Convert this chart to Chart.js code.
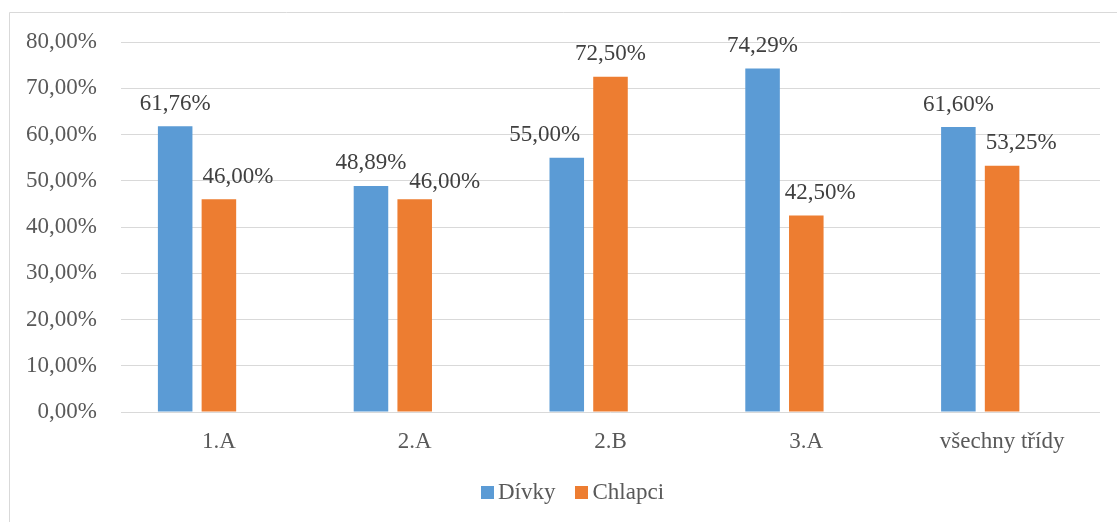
<!DOCTYPE html>
<html>
<head>
<meta charset="utf-8">
<script src="https://cdn.jsdelivr.net/npm/chart.js@4"></script>
<style>
  html, body { margin: 0; padding: 0; background: #ffffff; }
  #wrap { position: relative; width: 1117px; height: 522px; }
</style>
</head>
<body>
<div id="wrap"><canvas id="c" width="1117" height="522"></canvas></div>
<script>
// Classes and share per group (percent)
const classes = ['1.A', '2.A', '2.B', '3.A', 'všechny třídy'];
const girls = [61.76, 48.89, 55.00, 74.29, 61.60];
const boys  = [46.00, 46.00, 72.50, 42.50, 53.25];
// Third, empty series slot kept in the grouping (no values, not in legend)
const emptySlot = [null, null, null, null, null];
const yTicks = [0, 10, 20, 30, 40, 50, 60, 70, 80];

// Hand-placed nudges of some value labels so they don't collide (px)
const girlsLabelShiftX = [0, 0, -22, 0, 0];
const boysLabelShiftX  = [19, 30, 0, 14, 19];
const boysLabelShiftY  = [0, 5, 0, 0, 0];

const serif = "'Liberation Serif', 'Times New Roman', serif";
const fmt = v => v.toFixed(2).replace('.', ',') + '%';

// Outer frame of the chart
const framePlugin = {
  id: 'frame',
  beforeDraw(chart) {
    const ctx = chart.ctx;
    ctx.save();
    ctx.fillStyle = '#ffffff';
    ctx.fillRect(0, 0, chart.width, chart.height);
    ctx.strokeStyle = '#d9d9d9';
    ctx.lineWidth = 1;
    ctx.beginPath();
    ctx.moveTo(9.5, chart.height + 2);
    ctx.lineTo(9.5, 12.5);
    ctx.lineTo(chart.width + 2, 12.5);
    ctx.stroke();
    ctx.restore();
  }
};

// Value labels above each bar
const valueLabels = {
  id: 'valueLabels',
  afterDatasetsDraw(chart) {
    const ctx = chart.ctx;
    ctx.save();
    ctx.font = '23px ' + serif;
    ctx.fillStyle = '#404040';
    ctx.textAlign = 'center';
    ctx.textBaseline = 'alphabetic';
    chart.data.datasets.forEach((ds, di) => {
      const meta = chart.getDatasetMeta(di);
      const sx = ds.labelShiftX || [];
      const sy = ds.labelShiftY || [];
      meta.data.forEach((bar, i) => {
        const v = ds.data[i];
        if (v === null || v === undefined) return;
        ctx.fillText(fmt(v), bar.x + (sx[i] || 0), bar.y - 16.5 + (sy[i] || 0));
      });
    });
    ctx.restore();
  }
};

// Legend row under the axis: small square, tight gap, then the series name
const legendRow = {
  id: 'legendRow',
  afterDraw(chart) {
    const ctx = chart.ctx;
    const items = chart.data.datasets.filter(ds => ds.label);
    const box = 13, gap = 4, itemGap = 20, centerX = 572.5, baseY = 499;
    ctx.save();
    ctx.font = '23px ' + serif;
    ctx.textBaseline = 'alphabetic';
    ctx.textAlign = 'left';
    const widths = items.map(ds => ctx.measureText(ds.label).width);
    let total = 0;
    widths.forEach((w, i) => { total += box + gap + w + (i < widths.length - 1 ? itemGap : 0); });
    let x = centerX - total / 2;
    items.forEach((ds, i) => {
      ctx.fillStyle = ds.backgroundColor;
      ctx.fillRect(Math.round(x), baseY - box, box, box);
      ctx.fillStyle = '#595959';
      ctx.fillText(ds.label, x + box + gap, baseY);
      x += box + gap + widths[i] + itemGap;
    });
    ctx.restore();
  }
};

new Chart(document.getElementById('c'), {
  type: 'bar',
  data: {
    labels: classes,
    datasets: [
      { label: 'Dívky', data: girls, backgroundColor: '#5B9BD5', labelShiftX: girlsLabelShiftX },
      { label: 'Chlapci', data: boys, backgroundColor: '#ED7D31', labelShiftX: boysLabelShiftX, labelShiftY: boysLabelShiftY },
      { label: '', data: emptySlot, backgroundColor: 'rgba(0,0,0,0)' }
    ]
  },
  options: {
    responsive: false,
    animation: false,
    devicePixelRatio: 1,
    categoryPercentage: 0.67,
    barPercentage: 0.79,
    layout: { padding: { left: 0, right: 17, top: 42, bottom: 51 } },
    plugins: {
      legend: { display: false },
      tooltip: { enabled: false }
    },
    scales: {
      x: {
        grid: { display: false, drawTicks: false },
        border: { display: false },
        ticks: {
          font: { family: serif, size: 23 },
          color: '#595959',
          padding: 16,
          maxRotation: 0
        },
        afterFit(scale) { scale.height = 59; }
      },
      y: {
        min: 0,
        max: 80,
        afterBuildTicks(scale) { scale.ticks = yTicks.map(v => ({ value: v })); },
        grid: { color: '#d9d9d9', lineWidth: 1, drawTicks: false },
        border: { display: false },
        ticks: {
          font: { family: serif, size: 23 },
          color: '#595959',
          padding: 24,
          callback: v => fmt(v)
        },
        afterFit(scale) { scale.width = 121; }
      }
    }
  },
  plugins: [framePlugin, valueLabels, legendRow]
});
</script>
</body>
</html>
